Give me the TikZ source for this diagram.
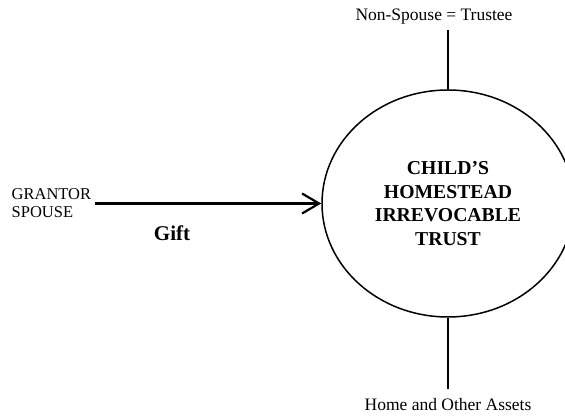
\documentclass[tikz,border=0pt]{standalone}
\usepackage{fontspec}
\setmainfont{Liberation Serif}
\usetikzlibrary{shapes.geometric,arrows.meta}
\tikzset{
  plain/.style={inner sep=0pt, font=\fontsize{17.5}{18}\selectfont},
  trustbox/.style={draw, ellipse, line width=1.5pt, inner sep=0pt,
    minimum width=252pt, minimum height=227pt, align=center,
    font=\fontsize{19.7}{23.5}\selectfont\bfseries},
  stem/.style={line width=1.5pt},
  gift/.style={line width=2.2pt, -{Straight Barb[length=17pt,width=20pt,line width=2.2pt]}}
}
\begin{document}
\begin{tikzpicture}[x=1pt,y=-1pt]
  \useasboundingbox (0,0) rectangle (565,419);
  \clip (0,0) rectangle (565,419);
  % the trust
  \node[trustbox] (trust) at (448,203.5) {CHILD’S\\HOMESTEAD\\IRREVOCABLE\\TRUST};
  % trustee above
  \node[plain, anchor=base] (trustee) at (434,21) {Non-Spouse = Trustee};
  \coordinate (toptip) at (448,30);
  \draw[stem] (toptip) -- (trust.north);
  % assets below
  \node[plain, anchor=base] (assets) at (448,410) {Home and Other Assets};
  \coordinate (bottip) at (448,389);
  \draw[stem] (trust.south) -- (bottip);
  % grantor and gift
  \node[plain, anchor=base west, align=left,
        font=\fontsize{16.5}{18}\selectfont] (grantor) at (11.5,200) {GRANTOR};
  \node[plain, anchor=base west, font=\fontsize{16.5}{18}\selectfont] (spouse) at (11.5,218) {SPOUSE};
  \coordinate (gstart) at (95,203.5);
  \draw[gift] (gstart) -- (trust.west);
  \node[plain, anchor=base, font=\fontsize{21}{22}\selectfont\bfseries] (giftlabel) at (172,241) {Gift};
\end{tikzpicture}
\end{document}
